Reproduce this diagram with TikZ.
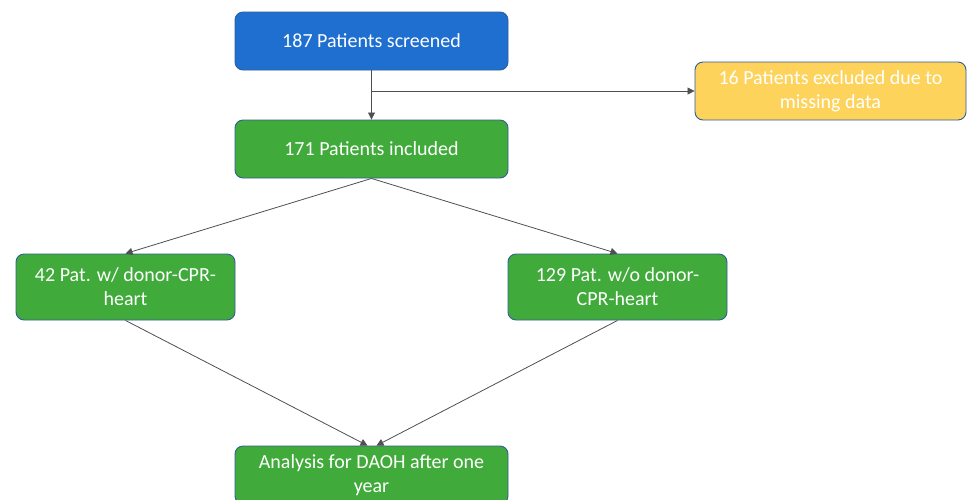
\documentclass[tikz,border=0pt]{standalone}
\usepackage{fontspec}
\setmainfont{Carlito}
\usetikzlibrary{arrows.meta}
\definecolor{boxblue}{HTML}{1E6FD0}
\definecolor{boxgreen}{HTML}{40AA3A}
\definecolor{boxyellow}{HTML}{FDD35C}
\definecolor{edgeblue}{HTML}{2F5E9A}
\definecolor{linegray}{HTML}{505050}
\tikzset{
  flowbox/.style={draw=edgeblue, line width=0.9pt, rounded corners=8pt, inner sep=0pt,
    text=white, align=center, font=\fontsize{20}{24}\selectfont},
  bluebox/.style={flowbox, fill=boxblue, minimum width=273pt, minimum height=58pt},
  greenwide/.style={flowbox, fill=boxgreen, minimum width=273pt, minimum height=58pt},
  greensmall/.style={flowbox, fill=boxgreen, minimum width=219pt, minimum height=66pt},
  yellowbox/.style={flowbox, fill=boxyellow, minimum width=271pt, minimum height=58pt},
  conn/.style={draw=linegray, line width=0.8pt, -{Triangle[length=7pt,width=7pt]}}
}
\begin{document}
\begin{tikzpicture}[x=1pt,y=-1pt]
\useasboundingbox[fill=white] (0,0) rectangle (967,499);
\node[bluebox] (screen) at (371.5,41) {187 Patients screened};
\node[greenwide] (incl) at (371.5,149) {171 Patients included};
\node[yellowbox] (excl) at (830.5,91) {16 Patients excluded due to\\missing data};
\node[greensmall] (left) at (125.5,287) {42 Pat. w/ donor-CPR-\\heart};
\node[greensmall] (right) at (617.5,287) {129 Pat. w/o donor-\\CPR-heart};
\node[greenwide] (final) at (371.5,475) {Analysis for DAOH after one\\year};
\coordinate (branch) at (screen.south |- excl.west);
\draw[conn] (screen.south) -- (incl.north);
\draw[conn] (branch) -- (excl.west);
\draw[conn] (incl.south) -- (left.north);
\draw[conn] (incl.south) -- (right.north);
\draw[conn] (left.south) -- ([xshift=-4pt]final.north);
\draw[conn] (right.south) -- ([xshift=5pt]final.north);
\end{tikzpicture}
\end{document}
